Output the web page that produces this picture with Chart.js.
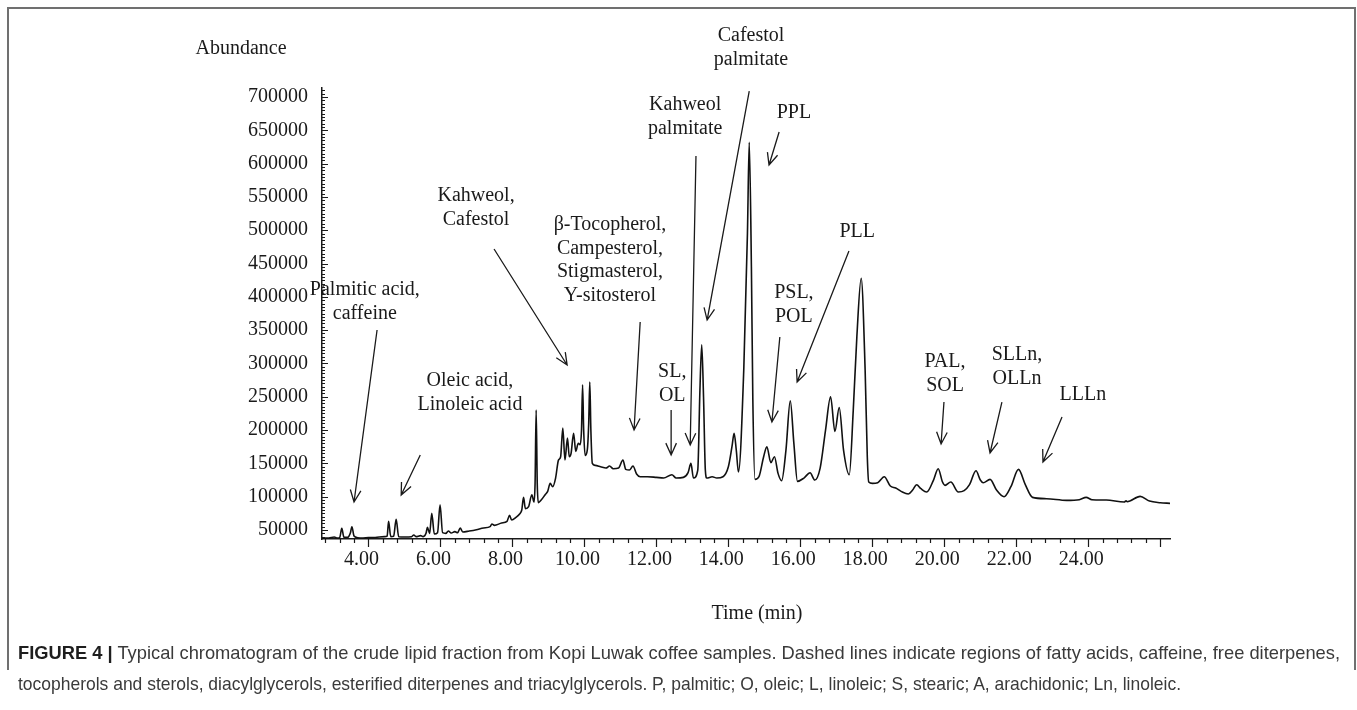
<!DOCTYPE html>
<html lang="en">
<head>
<meta charset="UTF-8">
<title>Kopi Luwak crude lipid chromatogram</title>
<script src="https://cdn.jsdelivr.net/npm/chart.js"></script>
<style>
  body { margin:0; background:#fff; width:1357px; height:710px; overflow:hidden; position:relative; }
  .frame { position:absolute; left:7px; top:7px; width:1345px; height:661px; border:2px solid #707070; border-bottom:none; }
  #chart { position:absolute; left:0; top:0; }
  .lbl { position:absolute; font-family:"Liberation Serif", serif; font-size:20px; color:#1a1a1a; white-space:nowrap; transform:translate(-50%,-50%); }
  .caption { position:absolute; left:18px; top:637px; font-family:"Liberation Sans Narrow","Liberation Sans",Arial,sans-serif; font-size:19px; line-height:31px; color:#3a3a3a; }
  .caption div { white-space:nowrap; transform-origin:left center; display:inline-block; }
  .caption b { color:#1e1e1e; }
</style>
</head>
<body>
<div class="frame"></div>
<canvas id="chart" width="1357" height="640"></canvas>
<div class="lbl" style="left:241px; top:47px;">Abundance</div>
<div class="lbl" style="left:757px; top:612px;">Time (min)</div>
<div class="caption">
  <div><b>FIGURE 4 |</b> Typical chromatogram of the crude lipid fraction from Kopi Luwak coffee samples. Dashed lines indicate regions of fatty acids, caffeine, free diterpenes,</div><br>
  <div>tocopherols and sterols, diacylglycerols, esterified diterpenes and triacylglycerols. P, palmitic; O, oleic; L, linoleic; S, stearic; A, arachidonic; Ln, linoleic.</div>
</div>
<script>
// retention time (min) and abundance
const times = [
  2.72, 2.9, 3.05, 3.12, 3.2, 3.26, 3.32, 3.42, 3.5, 3.54, 3.6, 3.7, 3.85, 4.0, 4.15, 4.3, 4.45, 4.52, 4.56, 4.62,
  4.7, 4.77, 4.84, 5.0, 5.2, 5.26, 5.32, 5.45, 5.52, 5.6, 5.64, 5.7, 5.76, 5.83, 5.92, 5.99, 6.06, 6.15, 6.22, 6.3,
  6.4, 6.48, 6.55, 6.62, 6.8, 7.0, 7.2, 7.38, 7.43, 7.5, 7.7, 7.85, 7.92, 7.98, 8.1, 8.2, 8.26, 8.31, 8.36, 8.45,
  8.54, 8.6, 8.63, 8.66, 8.69, 8.72, 8.8, 8.91, 8.98, 9.05, 9.12, 9.2, 9.28, 9.34, 9.4, 9.46, 9.53, 9.58, 9.63, 9.7,
  9.76, 9.83, 9.88, 9.92, 9.95, 9.98, 10.02, 10.08, 10.12, 10.15, 10.18, 10.22, 10.3, 10.45, 10.6, 10.7, 10.8, 10.95, 11.07, 11.15,
  11.25, 11.35, 11.45, 11.55, 11.75, 12.0, 12.2, 12.43, 12.55, 12.75, 12.88, 12.96, 13.03, 13.15, 13.21, 13.26, 13.31, 13.36, 13.4, 13.55,
  13.68, 13.85, 14.0, 14.1, 14.16, 14.22, 14.28, 14.43, 14.53, 14.58, 14.64, 14.68, 14.74, 14.85, 14.98, 15.07, 15.18, 15.28, 15.38, 15.48,
  15.6, 15.72, 15.82, 15.92, 16.1, 16.27, 16.4, 16.55, 16.7, 16.84, 16.96, 17.08, 17.2, 17.36, 17.47, 17.57, 17.69, 17.8, 17.86, 17.9,
  18.0, 18.15, 18.33, 18.5, 18.65, 18.8, 19.0, 19.12, 19.23, 19.35, 19.51, 19.7, 19.83, 19.95, 20.02, 20.18, 20.39, 20.55, 20.7, 20.88,
  21.0, 21.08, 21.27, 21.45, 21.66, 21.85, 22.06, 22.25, 22.45, 22.84, 23.4, 23.75, 23.94, 24.1, 24.5, 25.0, 25.05, 25.08, 25.44, 25.7,
  26.0, 26.27
];
const abundance = [
  38000, 38000, 39500, 38000, 38500, 52500, 39000, 39000, 46000, 55000, 41000, 38500, 38000, 38500, 38500, 39500, 40000, 41000, 63000, 40000,
  40500, 66000, 40000, 39500, 40000, 42500, 40000, 41500, 40000, 45000, 54000, 45000, 75000, 44000, 46000, 88000, 46000, 45000, 48500, 45500,
  47500, 46000, 53000, 47000, 48500, 50500, 53000, 55000, 59000, 57000, 60500, 63000, 72000, 65000, 69000, 74000, 80000, 99000, 82000, 85000,
  103000, 92000, 120000, 230000, 120000, 91000, 95000, 103000, 108000, 120000, 115000, 128000, 155000, 160000, 203000, 155000, 188000, 160000, 165000, 195000,
  168000, 180000, 178000, 200000, 268000, 200000, 162000, 170000, 210000, 272000, 200000, 150000, 147000, 145000, 143000, 146000, 142000, 143000, 155000, 141000,
  140000, 146000, 134000, 130000, 130000, 129000, 128000, 133000, 128000, 129000, 136000, 150000, 128000, 140000, 260000, 328000, 250000, 140000, 128000, 130000,
  128000, 130000, 145000, 175000, 195000, 170000, 137000, 294000, 495000, 632000, 445000, 245000, 126000, 130000, 160000, 175000, 151000, 160000, 135000, 124000,
  170000, 244000, 180000, 123000, 128000, 136000, 125000, 143000, 200000, 250000, 198000, 234000, 170000, 133000, 230000, 340000, 428000, 290000, 160000, 122000,
  120000, 121000, 130000, 116000, 113000, 108000, 104000, 110000, 118000, 112000, 107000, 125000, 142000, 122000, 117000, 122000, 107000, 109000, 118000, 139000,
  125000, 121000, 126000, 110000, 100000, 115000, 141000, 118000, 99000, 97000, 94500, 95500, 99000, 95500, 95000, 92000, 94000, 92500, 100500, 93500,
  91000, 90000
];

const yTickLabels = [50000, 100000, 150000, 200000, 250000, 300000, 350000, 400000, 450000, 500000, 550000, 600000, 650000, 700000];
const xTickLabels = [4, 6, 8, 10, 12, 14, 16, 18, 20, 22, 24];
const xMajorTicks = [4, 6, 8, 10, 12, 14, 16, 18, 20, 22, 24, 26];

// peak annotations: text, text anchor, arrow tail, arrow head (time, abundance)
const noteTexts = [
  ['Palmitic acid,', 'caffeine'],
  ['Oleic acid,', 'Linoleic acid'],
  ['Kahweol,', 'Cafestol'],
  ['\u03b2-Tocopherol,', 'Campesterol,', 'Stigmasterol,', 'Y-sitosterol'],
  ['SL,', 'OL'],
  ['Kahweol', 'palmitate'],
  ['Cafestol', 'palmitate'],
  ['PPL'],
  ['PSL,', 'POL'],
  ['PLL'],
  ['PAL,', 'SOL'],
  ['SLLn,', 'OLLn'],
  ['LLLn']
];
const noteAnchors = [
  [3.90, 410200], [6.82, 273700], [6.99, 551300], [10.71, 507800], [12.44, 287200], [12.80, 687900], [14.63, 791500],
  [15.82, 675900], [15.82, 405700], [17.58, 497300], [20.02, 302200], [22.02, 312700], [23.85, 252600]
];
const arrowTails = [
  [4.24, 350200], [5.44, 162600], [7.49, 471800], [11.55, 362200], [12.41, 230100], [13.10, 611400], [14.58, 708900],
  [15.41, 647400], [15.43, 339700], [17.35, 468800], [19.99, 242100], [21.60, 242100], [23.27, 219600]
];
const arrowHeads = [
  [3.60, 92000], [4.91, 102500], [9.52, 297700], [11.38, 200100], [12.41, 162600], [12.94, 177600], [13.41, 365200],
  [15.13, 597900], [15.21, 212100], [15.91, 272200], [19.91, 179100], [21.27, 165600], [22.74, 152100]
];

const ink = '#1a1a1a';
const serif = '"Liberation Serif", "Times New Roman", serif';

const extras = {
  id: 'extras',
  afterDraw(chart) {
    const { ctx, chartArea, scales: { x, y } } = chart;
    ctx.save();
    ctx.strokeStyle = ink;
    ctx.lineWidth = 1.2;
    ctx.beginPath();
    // x ticks: minor every 0.4 min, major every 2 min
    for (let i = 7; i * 0.4 <= x.max; i++) {
      const px = Math.round(x.getPixelForValue(i * 0.4)) + 0.5;
      ctx.moveTo(px, chartArea.bottom);
      ctx.lineTo(px, chartArea.bottom + 4);
    }
    xMajorTicks.forEach(t => {
      const px = Math.round(x.getPixelForValue(t)) + 0.5;
      ctx.moveTo(px, chartArea.bottom);
      ctx.lineTo(px, chartArea.bottom + 8);
    });
    // y ticks: minor every 5000, major at labels
    for (let v = 40000; v <= y.max; v += 5000) {
      const py = Math.round(y.getPixelForValue(v)) + 0.5;
      const len = v % 50000 === 0 ? 6 : 3;
      ctx.moveTo(chartArea.left, py);
      ctx.lineTo(chartArea.left + len, py);
    }
    ctx.stroke();

    // annotations
    ctx.font = '20px ' + serif;
    ctx.fillStyle = ink;
    ctx.textAlign = 'center';
    ctx.textBaseline = 'middle';
    noteTexts.forEach((lines, i) => {
      const ax = x.getPixelForValue(noteAnchors[i][0]);
      const ay = y.getPixelForValue(noteAnchors[i][1]);
      lines.forEach((s, j) => ctx.fillText(s, ax, ay + j * 23.5));
    });
    ctx.lineWidth = 1.3;
    arrowTails.forEach((tail, i) => {
      const x0 = x.getPixelForValue(tail[0]), y0 = y.getPixelForValue(tail[1]);
      const x1 = x.getPixelForValue(arrowHeads[i][0]), y1 = y.getPixelForValue(arrowHeads[i][1]);
      const ang = Math.atan2(y1 - y0, x1 - x0);
      const h = 13, spread = 0.42;
      ctx.beginPath();
      ctx.moveTo(x0, y0);
      ctx.lineTo(x1, y1);
      ctx.moveTo(x1 - h * Math.cos(ang - spread), y1 - h * Math.sin(ang - spread));
      ctx.lineTo(x1, y1);
      ctx.lineTo(x1 - h * Math.cos(ang + spread), y1 - h * Math.sin(ang + spread));
      ctx.stroke();
    });
    ctx.restore();
  }
};

new Chart(document.getElementById('chart'), {
  type: 'line',
  data: {
    datasets: [{
      data: times.map((t, i) => ({ x: t, y: abundance[i] })),
      borderColor: '#111',
      borderWidth: 1.6,
      pointRadius: 0,
      cubicInterpolationMode: 'monotone',
      fill: false
    }]
  },
  options: {
    responsive: false,
    animation: false,
    layout: { padding: { top: 88, right: 187, bottom: 0, left: 0 } },
    plugins: { legend: { display: false }, tooltip: { enabled: false } },
    scales: {
      x: {
        type: 'linear',
        min: 2.71,
        max: 26.27,
        afterFit: s => { s.height = 101; },
        afterBuildTicks: s => { s.ticks = xTickLabels.map(v => ({ value: v })); },
        grid: { display: false, drawTicks: false },
        border: { display: true, color: ink, width: 1.5 },
        ticks: {
          autoSkip: false, maxRotation: 0, padding: 9, labelOffset: -7,
          color: ink, font: { family: serif, size: 20 },
          callback: v => Number(v).toFixed(2)
        }
      },
      y: {
        min: 36500,
        max: 713500,
        afterFit: s => { s.width = 322; },
        afterBuildTicks: s => { s.ticks = yTickLabels.map(v => ({ value: v })); },
        grid: { display: false, drawTicks: false },
        border: { display: true, color: ink, width: 1.5 },
        ticks: {
          autoSkip: false, padding: 14,
          color: ink, font: { family: serif, size: 20 },
          callback: v => String(v)
        }
      }
    }
  },
  plugins: [extras]
});

// squeeze caption lines to the widths of the printed caption
const captionWidths = [1322, 1163];
document.querySelectorAll('.caption div').forEach((el, i) => {
  const w = el.getBoundingClientRect().width;
  el.style.transform = 'scaleX(' + (captionWidths[i] / w) + ')';
});
</script>
</body>
</html>
